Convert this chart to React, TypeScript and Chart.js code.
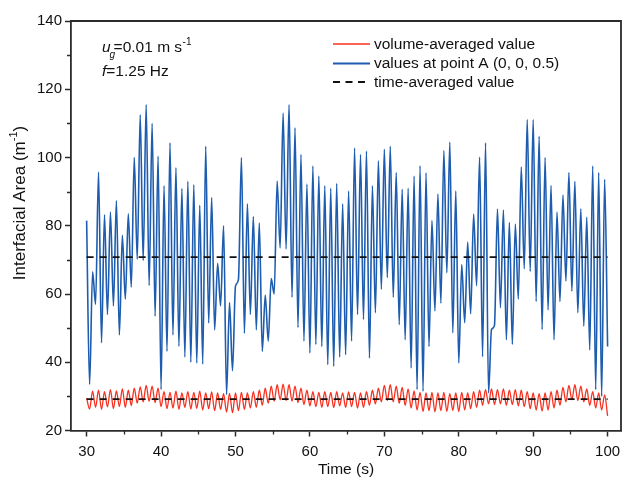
import React, { useEffect, useRef } from "react";
import { Chart, registerables } from "chart.js";

Chart.register(...registerables);

// time sampling of the recorded extrema (s)
const T_START = 30;
const T_STEP = 0.4;

// values at point A (0, 0, 0.5) (m^-1)
const blueValues = [
  81.5, 33.5, 66.5, 57, 95.7, 45.7, 83.2, 54, 84, 56.5,
  87.3, 48, 77.2, 58.5, 83.5, 62, 100, 70.2, 112.5, 69.8,
  115.5, 62.5, 110, 53.5, 100.4, 32, 91.7, 43.2, 104.3, 48,
  97, 44.7, 90.9, 41.5, 93, 40, 92, 39.8, 86, 39.5,
  103.3, 51.5, 88.3, 49.5, 69, 56.5, 80, 30.5, 57.5, 37.5,
  62.3, 64.3, 100, 48.5, 86.4, 54, 82.7, 49.5, 80.8, 43.2,
  59.7, 46.2, 64.5, 60, 93.1, 73.5, 113, 73.2, 115.5, 59,
  108.7, 50.2, 100.9, 46.2, 92.2, 42.7, 97.5, 45.2, 94.6, 44.6,
  91.7, 39.3, 91, 38.8, 92.4, 41.5, 86.4, 42.2, 90.2, 46.2,
  102.8, 54, 100.9, 52.5, 101.9, 41.2, 91.7, 54.5, 99, 61.4,
  102.4, 64.8, 103.3, 59, 95.6, 51, 90.7, 46.6, 91, 38.3,
  94.6, 32, 97.6, 31.5, 95.5, 44.6, 81.5, 55, 89.3, 57.3,
  102, 66.2, 104.5, 48.6, 90.2, 39.8, 68.6, 51.6, 75.2, 54.2,
  83.4, 62.4, 100.1, 41.6, 104.3, 31, 49.6, 50.8, 84.9, 56,
  84.6, 46.6, 81, 45.2, 80.5, 58.5, 97.2, 67.4, 111.1, 66.6,
  111.1, 57.8, 106.2, 49.6, 100, 55.3, 91.8, 46.6, 84, 57.8,
  89, 63.8, 95.6, 60.8, 93, 54.5, 85, 50.6, 82.5, 43.6,
  97.5, 32, 95.6, 30, 93.6, 44.6,
];

// volume-averaged value (m^-1)
const redValues = [
  29.5, 26.3, 31.5, 26.8, 31.8, 26.2, 31.4, 26.9, 32, 26.4,
  31.6, 27, 32.2, 26.8, 31.8, 27.3, 32.4, 28, 32.8, 28.4,
  33.2, 28.6, 33, 28.2, 32.4, 27, 31.4, 26.4, 31.2, 26.6,
  31.5, 26.2, 31, 26.8, 31.4, 26.3, 31.2, 26.5, 31.5, 26,
  31, 26.4, 31.3, 25.8, 31, 26.2, 30.8, 25.4, 30.9, 25.2,
  31, 25.8, 31.2, 26.2, 31, 26.6, 31.4, 26.8, 31.8, 27.4,
  32.4, 28, 33, 28.6, 33.4, 29, 33.6, 28.8, 33.4, 28.6,
  33, 28.2, 32.4, 27.6, 31.8, 27.2, 31.4, 27, 31.2, 26.8,
  31.4, 27, 31.2, 26.7, 31.4, 27.2, 31, 26.8, 31.3, 27,
  31.2, 26.6, 31, 26.8, 31.4, 27.4, 31.8, 27.8, 32.4, 28.4,
  33.2, 28.8, 33.4, 28.4, 33, 28, 32.6, 27.4, 32.2, 26.6,
  31.6, 26, 31.2, 25.6, 31, 25.8, 31.2, 25.5, 31, 25.8,
  31.2, 25.6, 30.8, 25.9, 31, 25.6, 31.2, 26, 31, 26.4,
  31.4, 26.8, 31.8, 27.4, 32, 27.8, 32.2, 27.6, 32, 27.8,
  32.2, 27.4, 31.8, 27.6, 32, 27.2, 31.8, 27, 31.4, 26.4,
  31, 26, 30.8, 25.7, 31, 26, 31.4, 26.6, 31.8, 27.4,
  32.6, 28.4, 33.2, 29, 33.4, 28.8, 33, 28.4, 32.2, 27.4,
  31.4, 26.6, 31, 26, 30.4, 24.3,
];

// time-averaged values and the span they are drawn over
const blueMean = 70.8;
const redMean = 29.2;
const meanSpan = [30, 100];

const xTicks = [30, 40, 50, 60, 70, 80, 90, 100];
const xMinorTicks = [35, 45, 55, 65, 75, 85, 95];
const yTicks = [20, 40, 60, 80, 100, 120, 140];
const yMinorTicks = [30, 50, 70, 90, 110, 130];

const legendLabels = [
  "volume-averaged value",
  "values at point A (0, 0, 0.5)",
  "time-averaged value",
];
const xTitle = "Time (s)";
const yTitleMain = "Interfacial Area (m";
const yTitleSup = "-1";

const BLUE = "#1d5cae";
const RED = "#f8301f";
const AXIS = "#2b2b2b";
const TEXT = "#111111";
const FONT_FAMILY = "'Liberation Sans', Arial, sans-serif";

const decorPlugin = {
  id: "decor",
  afterDraw(chart: any) {
    const { ctx, chartArea } = chart;
    const xs = chart.scales.x;
    const ys = chart.scales.y;
    ctx.save();
    // top and right frame
    ctx.strokeStyle = AXIS;
    ctx.lineWidth = 1.8;
    ctx.beginPath();
    ctx.moveTo(chartArea.left, chartArea.top);
    ctx.lineTo(chartArea.right, chartArea.top);
    ctx.lineTo(chartArea.right, chartArea.bottom);
    ctx.stroke();
    // minor ticks
    ctx.lineWidth = 1.3;
    ctx.beginPath();
    for (const v of xMinorTicks) {
      const px = Math.round(xs.getPixelForValue(v)) + 0.5;
      ctx.moveTo(px, chartArea.bottom);
      ctx.lineTo(px, chartArea.bottom + 4);
    }
    for (const v of yMinorTicks) {
      const py = Math.round(ys.getPixelForValue(v)) + 0.5;
      ctx.moveTo(chartArea.left, py);
      ctx.lineTo(chartArea.left - 4, py);
    }
    ctx.stroke();

    // y axis title with superscript
    ctx.save();
    ctx.translate(20, 203);
    ctx.rotate(-Math.PI / 2);
    ctx.fillStyle = TEXT;
    ctx.textBaseline = "middle";
    ctx.font = `17px ${FONT_FAMILY}`;
    const wMain = ctx.measureText(yTitleMain).width;
    ctx.font = `11px ${FONT_FAMILY}`;
    const wSup = ctx.measureText(yTitleSup).width;
    ctx.font = `17px ${FONT_FAMILY}`;
    const wClose = ctx.measureText(")").width;
    let tx0 = -(wMain + wSup + wClose) / 2;
    ctx.textAlign = "left";
    ctx.fillText(yTitleMain, tx0, 0);
    tx0 += wMain;
    ctx.font = `11px ${FONT_FAMILY}`;
    ctx.fillText(yTitleSup, tx0, -6);
    tx0 += wSup;
    ctx.font = `17px ${FONT_FAMILY}`;
    ctx.fillText(")", tx0, 0);
    ctx.restore();

    // legend
    const lx0 = chartArea.left + 262;
    const lx1 = chartArea.left + 299;
    const tx = chartArea.left + 303;
    const rows = [chartArea.top + 23, chartArea.top + 42.5, chartArea.top + 61];
    const styles = [
      { color: RED, dash: [] as number[], w: 1.5 },
      { color: BLUE, dash: [] as number[], w: 1.8 },
      { color: "#111", dash: [7, 5.5], w: 1.8 },
    ];
    ctx.font = `15.5px ${FONT_FAMILY}`;
    ctx.textBaseline = "middle";
    ctx.textAlign = "left";
    rows.forEach((y, i) => {
      ctx.strokeStyle = styles[i].color;
      ctx.lineWidth = styles[i].w;
      ctx.setLineDash(styles[i].dash);
      ctx.beginPath();
      ctx.moveTo(lx0, y);
      ctx.lineTo(lx1, y);
      ctx.stroke();
      ctx.setLineDash([]);
      ctx.fillStyle = TEXT;
      ctx.fillText(legendLabels[i], tx, y + 0.5);
    });

    // annotation: u_g = 0.01 m s^-1, f = 1.25 Hz
    ctx.textBaseline = "alphabetic";
    ctx.fillStyle = TEXT;
    let x = chartArea.left + 31;
    const b1 = chartArea.top + 30.5;
    ctx.font = `italic 15.5px ${FONT_FAMILY}`;
    ctx.fillText("u", x, b1);
    const uw = ctx.measureText("u").width;
    ctx.font = `italic 10px ${FONT_FAMILY}`;
    ctx.fillText("g", x + uw - 1, b1 + 6);
    x += uw + 3;
    ctx.font = `15.5px ${FONT_FAMILY}`;
    const main = "=0.01 m s";
    ctx.fillText(main, x, b1);
    x += ctx.measureText(main).width + 0.5;
    ctx.font = `10px ${FONT_FAMILY}`;
    ctx.fillText("-1", x, b1 - 6.5);

    const b2 = chartArea.top + 55;
    let x2 = chartArea.left + 31;
    ctx.font = `italic 15.5px ${FONT_FAMILY}`;
    ctx.fillText("f", x2, b2);
    x2 += ctx.measureText("f").width;
    ctx.font = `15.5px ${FONT_FAMILY}`;
    ctx.fillText("=1.25 Hz", x2, b2);
    ctx.restore();
  },
};

export default function App() {
  const ref = useRef<HTMLCanvasElement>(null);

  useEffect(() => {
    document.body.style.margin = "0";
    document.body.style.background = "#ffffff";
    const canvas = ref.current;
    if (!canvas) return;
    const toPoints = (vals: number[]) =>
      vals.map((v, i) => ({ x: T_START + i * T_STEP, y: v }));
    const tickFont = { family: FONT_FAMILY, size: 15 };

    const chart = new Chart(canvas, {
      type: "line",
      data: {
        datasets: [
          {
            label: "time-averaged value (point A)",
            data: meanSpan.map((x) => ({ x, y: blueMean })),
            borderColor: "#111111",
            borderWidth: 1.7,
            borderDash: [7, 6],
            pointRadius: 0,
            fill: false,
          },
          {
            label: "time-averaged value (volume)",
            data: meanSpan.map((x) => ({ x, y: redMean })),
            borderColor: "#111111",
            borderWidth: 1.7,
            borderDash: [7, 6],
            pointRadius: 0,
            fill: false,
          },
          {
            label: legendLabels[1],
            data: toPoints(blueValues),
            borderColor: BLUE,
            borderWidth: 1.6,
            pointRadius: 0,
            cubicInterpolationMode: "monotone",
            fill: false,
          },
          {
            label: legendLabels[0],
            data: toPoints(redValues),
            borderColor: RED,
            borderWidth: 1.3,
            pointRadius: 0,
            cubicInterpolationMode: "monotone",
            fill: false,
          },
        ],
      },
      options: {
        animation: false,
        responsive: false,
        maintainAspectRatio: false,
        layout: { padding: { top: 21, right: 2, left: 0, bottom: 0 } },
        plugins: {
          legend: { display: false },
          tooltip: { enabled: false },
        },
        scales: {
          x: {
            type: "linear",
            min: 27.9,
            max: 101.8,
            afterBuildTicks: (s: any) => {
              s.ticks = xTicks.map((v) => ({ value: v }));
            },
            afterFit: (s: any) => {
              s.height = 49.5;
              s.paddingLeft = 0;
              s.paddingRight = 0;
            },
            grid: {
              drawOnChartArea: false,
              drawTicks: true,
              tickLength: 6,
              tickColor: AXIS,
              tickWidth: 1.5,
            },
            border: { display: true, color: AXIS, width: 1.8 },
            ticks: { font: tickFont, color: TEXT, padding: 6, maxRotation: 0 },
            title: {
              display: true,
              text: xTitle,
              font: { family: FONT_FAMILY, size: 15.5 },
              color: TEXT,
              padding: { top: 0, bottom: 1 },
            },
          },
          y: {
            type: "linear",
            min: 20,
            max: 140,
            afterBuildTicks: (s: any) => {
              s.ticks = yTicks.map((v) => ({ value: v }));
            },
            afterFit: (s: any) => {
              s.width = 71;
              s.paddingTop = 0;
              s.paddingBottom = 0;
            },
            grid: {
              drawOnChartArea: false,
              drawTicks: true,
              tickLength: 6,
              tickColor: AXIS,
              tickWidth: 1.5,
            },
            border: { display: true, color: AXIS, width: 1.8 },
            ticks: { font: tickFont, color: TEXT, padding: 3 },
            title: { display: false },
          },
        },
      },
      plugins: [decorPlugin],
    } as any);

    return () => chart.destroy();
  }, []);

  return (
    <canvas
      ref={ref}
      width={623}
      height={480}
      style={{ display: "block", width: 623, height: 480 }}
    />
  );
}
